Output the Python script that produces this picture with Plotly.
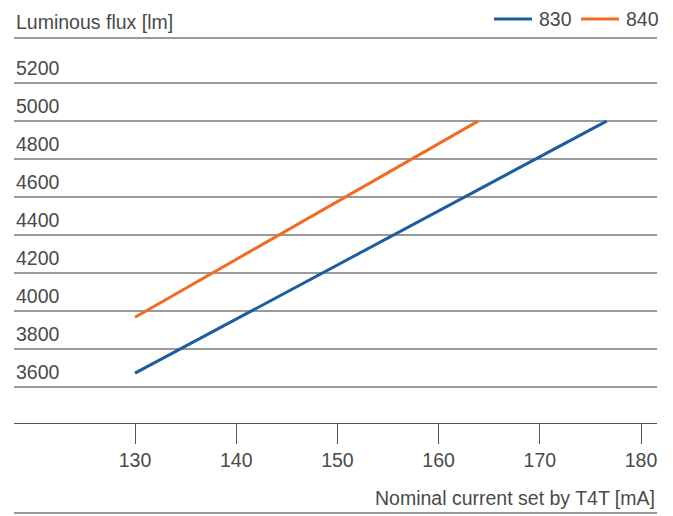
import plotly.graph_objects as go

# Data
current_830 = [130, 176.6]
flux_830 = [3674, 5000]
current_840 = [130, 163.9]
flux_840 = [3968, 5000]
series_names = ["830", "840"]
series_colors = ["#1a5e9f", "#f26b21"]
y_ticks = [3600, 3800, 4000, 4200, 4400, 4600, 4800, 5000, 5200]
x_ticks = [130, 140, 150, 160, 170, 180]
y_title = "Luminous flux [lm]"
x_title = "Nominal current set by T4T [mA]"

FONT = "Liberation Sans, Arial, sans-serif"
TXT = "#4a4a4a"
FS = 19.5

# page has an 8px body margin; figure is sized/offset to compensate
OFF = 8
W, H = 673 - OFF, 516 - OFF
ml, mr, mt = 14 - OFF, 673 - 657, 38 - OFF
mb = H - (423 - OFF)
plot_h = H - mt - mb
plot_w = W - ml - mr


def px_x(page_x):
    return (page_x - OFF - ml) / plot_w


def px_y(page_y):
    return 1 - (page_y - OFF - mt) / plot_h


fig = go.Figure()
for xs, ys, name, col in [(current_830, flux_830, series_names[0], series_colors[0]),
                          (current_840, flux_840, series_names[1], series_colors[1])]:
    fig.add_trace(go.Scatter(x=xs, y=ys, mode="lines", name=name,
                             line=dict(color=col, width=3), showlegend=False))

ylo, yhi = 3412, 5437
fig.update_layout(
    width=W, height=H,
    margin=dict(l=ml, r=mr, t=mt, b=mb, autoexpand=False),
    paper_bgcolor="white", plot_bgcolor="white",
    font=dict(family=FONT, size=FS, color=TXT),
    showlegend=False,
    xaxis=dict(range=[118.04, 181.58], tickvals=x_ticks, ticks="outside",
               ticklen=20, tickwidth=1, tickcolor="#555555", automargin=False,
               showgrid=False, zeroline=False, showline=True,
               linecolor="#555555", linewidth=1,
               tickfont=dict(size=FS, color=TXT)),
    yaxis=dict(range=[ylo, yhi], tickvals=y_ticks, showticklabels=False,
               automargin=False,
               showgrid=True, gridcolor="#9a9a9a", gridwidth=2,
               zeroline=False, showline=False),
)

for v in y_ticks:
    fig.add_annotation(x=0, xref="paper", y=v, yref="y", text=str(v),
                       showarrow=False, xanchor="left", yanchor="bottom",
                       yshift=2, font=dict(size=FS, color=TXT))

fig.add_annotation(x=0, xref="paper", y=1, yref="paper", text=y_title,
                   showarrow=False, xanchor="left", yanchor="bottom", yshift=3,
                   font=dict(size=FS, color=TXT))
fig.add_annotation(x=1, xref="paper", y=px_y(498), yref="paper",
                   text=x_title, showarrow=False, xanchor="right", yanchor="middle",
                   font=dict(size=FS, color=TXT))

# legend (drawn manually to match the reference's long line keys)
leg_y = px_y(19)
leg_starts = [494, 581]
for name, col, x0 in zip(series_names, series_colors, leg_starts):
    fig.add_shape(type="line", xref="paper", yref="paper",
                  x0=px_x(x0), x1=px_x(x0 + 38), y0=leg_y, y1=leg_y,
                  line=dict(color=col, width=3))
    fig.add_annotation(x=px_x(x0 + 43), xref="paper", y=leg_y, yref="paper",
                       text=name, showarrow=False, xanchor="left",
                       yanchor="middle", font=dict(size=FS, color=TXT))

# top rule under y title and bottom rule under x title
fig.add_shape(type="line", xref="paper", yref="paper", x0=0, x1=1, y0=1, y1=1,
              line=dict(color="#333333", width=1))
yb = px_y(513)
fig.add_shape(type="line", xref="paper", yref="paper", x0=0, x1=1, y0=yb, y1=yb,
              line=dict(color="#333333", width=1))

fig.write_html("out.html")
